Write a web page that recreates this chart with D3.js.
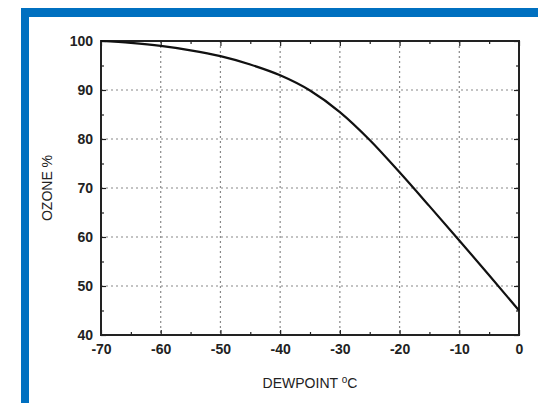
<!DOCTYPE html>
<html>
<head>
<meta charset="utf-8">
<script src="https://cdn.jsdelivr.net/npm/d3@7"></script>
<style>
  body { margin: 0; background: #fff; }
  svg { display: block; }
  .tick text { font-family: "Liberation Sans", Arial, sans-serif; font-weight: bold; font-size: 14px; fill: #222; }
</style>
</head>
<body>
<div id="chart"></div>
<script>
// dewpoint (deg C) vs ozone %
const dewpoint = [-70, -65, -60, -55, -50, -45, -40, -35, -30, -25, -20, -15, -10, -5, 0];
const ozone = [100, 99.6, 99.0, 98.1, 96.9, 95.2, 93.0, 89.9, 85.5, 79.8, 73.2, 66.3, 59.3, 52.2, 45];
const xTicks = [-70, -60, -50, -40, -30, -20, -10, 0];
const yTicks = [40, 50, 60, 70, 80, 90, 100];
const xMinor = [-65, -55, -45, -35, -25, -15, -5];
const yMinor = [45, 55, 65, 75, 85, 95];

const W = 538, H = 403;
const svg = d3.select("#chart").append("svg").attr("width", W).attr("height", H);

// blue frame
svg.append("rect").attr("x", 21).attr("y", 8).attr("width", W - 21).attr("height", 9).attr("fill", "#0070c0");
svg.append("rect").attr("x", 21).attr("y", 8).attr("width", 8).attr("height", H - 8).attr("fill", "#0070c0");

const x = d3.scaleLinear().domain([-70, 0]).range([101, 519]);
const y = d3.scaleLinear().domain([40, 100]).range([335, 41]);

// grid
const grid = svg.append("g").attr("stroke", "#888").attr("stroke-width", 1.2).attr("stroke-dasharray", "2,3");
grid.selectAll(".gx").data(xTicks.slice(1, -1)).join("line")
  .attr("x1", d => x(d)).attr("x2", d => x(d)).attr("y1", y(100)).attr("y2", y(40));
grid.selectAll(".gy").data(yTicks.slice(1, -1)).join("line")
  .attr("x1", x(-70)).attr("x2", x(0)).attr("y1", d => y(d)).attr("y2", d => y(d));

// axes with inward ticks
const ax = (g) => g.selectAll(".domain").remove();
const fmt = d => String(d);
svg.append("g").attr("transform", `translate(0,${y(40)})`)
  .call(d3.axisBottom(x).tickValues(xTicks).tickSizeInner(-5).tickSizeOuter(0).tickPadding(9).tickFormat(fmt))
  .call(ax);
svg.append("g").attr("transform", `translate(${x(-70)},0)`)
  .call(d3.axisLeft(y).tickValues(yTicks).tickSizeInner(-5).tickSizeOuter(0).tickPadding(8).tickFormat(fmt))
  .call(ax);
svg.append("g").attr("transform", `translate(0,${y(100)})`)
  .call(d3.axisTop(x).tickValues(xTicks).tickSizeInner(-5).tickSizeOuter(0).tickFormat(""))
  .call(ax);
svg.append("g").attr("transform", `translate(${x(0)},0)`)
  .call(d3.axisRight(y).tickValues(yTicks).tickSizeInner(-5).tickSizeOuter(0).tickFormat(""))
  .call(ax);
// minor ticks
svg.append("g").attr("transform", `translate(0,${y(40)})`)
  .call(d3.axisBottom(x).tickValues(xMinor).tickSizeInner(-3).tickSizeOuter(0).tickFormat("")).call(ax);
svg.append("g").attr("transform", `translate(0,${y(100)})`)
  .call(d3.axisTop(x).tickValues(xMinor).tickSizeInner(-3).tickSizeOuter(0).tickFormat("")).call(ax);
svg.append("g").attr("transform", `translate(${x(-70)},0)`)
  .call(d3.axisLeft(y).tickValues(yMinor).tickSizeInner(-3).tickSizeOuter(0).tickFormat("")).call(ax);
svg.append("g").attr("transform", `translate(${x(0)},0)`)
  .call(d3.axisRight(y).tickValues(yMinor).tickSizeInner(-3).tickSizeOuter(0).tickFormat("")).call(ax);
svg.selectAll(".tick line").attr("stroke", "#222").attr("stroke-width", 1.2);

// plot box
svg.append("rect").attr("x", x(-70)).attr("y", y(100))
  .attr("width", x(0) - x(-70)).attr("height", y(40) - y(100))
  .attr("fill", "none").attr("stroke", "#222").attr("stroke-width", 2);

// curve
const line = d3.line().x(d => x(d)).y((d, i) => y(ozone[i])).curve(d3.curveMonotoneX);
svg.append("path").datum(dewpoint).attr("d", line)
  .attr("fill", "none").attr("stroke", "#111").attr("stroke-width", 2.2);

// axis titles
svg.append("text").attr("x", 310).attr("y", 388).attr("text-anchor", "middle")
  .attr("font-family", "Liberation Sans, Arial, sans-serif").attr("font-size", 14).attr("fill", "#222")
  .text("DEWPOINT ")
  .append("tspan").attr("font-size", 10).attr("dy", -5).text("o")
  .append("tspan").attr("font-size", 14).attr("dy", 5).text("C");
svg.append("text").attr("transform", "translate(52,188) rotate(-90)").attr("text-anchor", "middle")
  .attr("font-family", "Liberation Sans, Arial, sans-serif").attr("font-size", 14).attr("fill", "#222")
  .text("OZONE %");
</script>
</body>
</html>
